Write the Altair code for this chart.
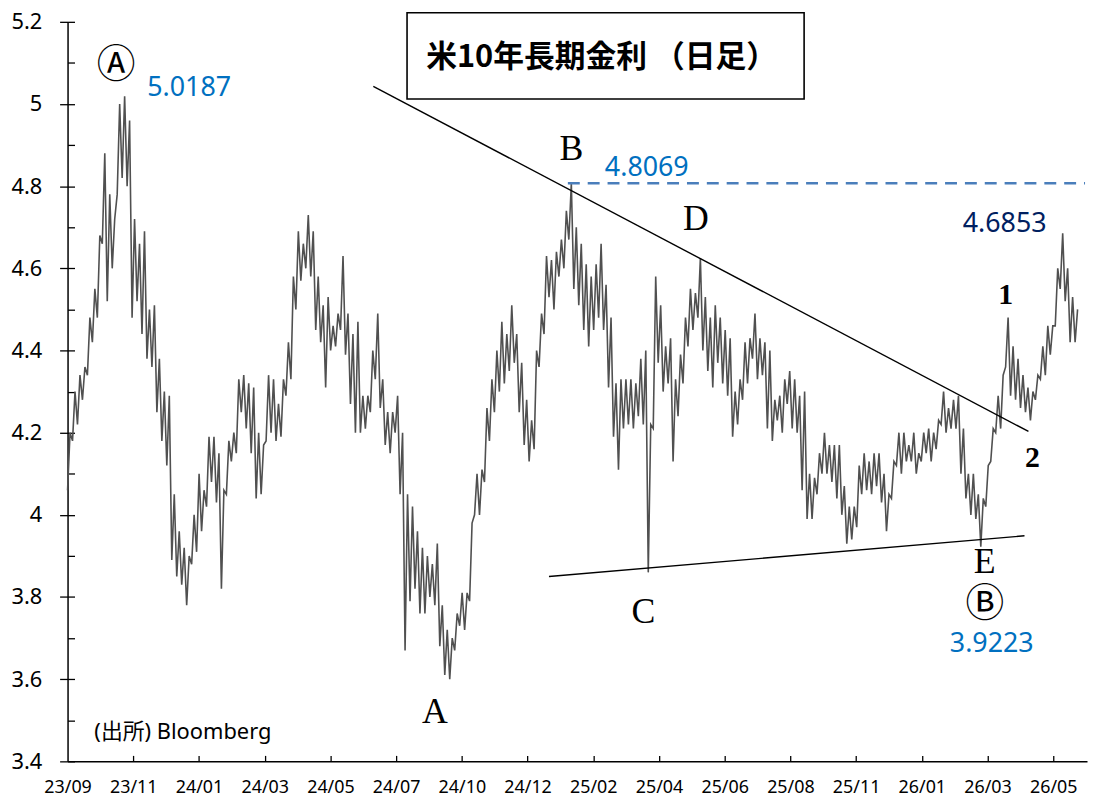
import altair as alt
import pandas as pd

# ---- axis labels -------------------------------------------------------
x_labels = ["23/09", "23/11", "24/01", "24/03", "24/05", "24/07", "24/10", "24/12",
            "25/02", "25/04", "25/06", "25/08", "25/11", "26/01", "26/03", "26/05"]
y_major = [3.4, 3.6, 3.8, 4.0, 4.2, 4.4, 4.6, 4.8, 5.0, 5.2]
y_minor = [3.4, 3.5, 3.6, 3.7, 3.8, 3.9, 4.0, 4.1, 4.2, 4.3, 4.4, 4.5, 4.6, 4.7,
           4.8, 4.9, 5.0, 5.1, 5.2]

# ---- daily yield: high / low for each short span ----
hi = [4.20, 4.30, 4.34, 4.36, 4.48, 4.55, 4.68, 4.88, 4.78, 4.72,
      5.00, 5.0187, 4.96, 4.72, 4.66, 4.69, 4.50, 4.51, 4.38, 4.30,
      4.29, 4.05, 3.96, 3.92, 3.90, 4.00, 4.10, 4.06, 4.19, 4.19,
      4.15, 4.06, 4.18, 4.20, 4.33, 4.34, 4.32, 4.31, 4.20, 4.17,
      4.34, 4.33, 4.27, 4.33, 4.42, 4.58, 4.69, 4.66, 4.73, 4.69,
      4.58, 4.51, 4.53, 4.46, 4.49, 4.63, 4.49, 4.44, 4.47, 4.29,
      4.29, 4.40, 4.49, 4.33, 4.25, 4.25, 4.29, 4.20, 4.05, 4.02,
      3.96, 3.92, 3.90, 3.88, 3.93, 3.78, 3.72, 3.70, 3.76, 3.81,
      3.81, 3.98, 4.10, 4.11, 4.26, 4.33, 4.40, 4.47, 4.44, 4.51,
      4.44, 4.37, 4.28, 4.23, 4.40, 4.49, 4.63, 4.62, 4.64, 4.67,
      4.74, 4.8069, 4.70, 4.66, 4.61, 4.58, 4.61, 4.66, 4.56, 4.48,
      4.32, 4.33, 4.33, 4.33, 4.32, 4.38, 4.40, 4.22, 4.58, 4.51,
      4.41, 4.43, 4.33, 4.39, 4.48, 4.55, 4.54, 4.625, 4.53, 4.48,
      4.51, 4.48, 4.45, 4.43, 4.30, 4.33, 4.42, 4.43, 4.49, 4.43,
      4.42, 4.40, 4.28, 4.29, 4.33, 4.35, 4.33, 4.29, 4.30, 4.10,
      4.09, 4.15, 4.20, 4.17, 4.17, 4.17, 4.07, 4.02, 4.02, 4.12,
      4.15, 4.13, 4.15, 4.15, 4.10, 4.05, 4.13, 4.20, 4.20, 4.17,
      4.20, 4.15, 4.20, 4.21, 4.20, 4.23, 4.30, 4.26, 4.28, 4.29,
      4.21, 4.10, 4.10, 4.05, 4.04, 4.12, 4.21, 4.29, 4.34, 4.48,
      4.41, 4.38, 4.34, 4.31, 4.30, 4.34, 4.41, 4.46, 4.46, 4.60,
      4.6853, 4.60, 4.53, 4.50]
lo = [4.06, 4.18, 4.22, 4.28, 4.34, 4.42, 4.48, 4.66, 4.52, 4.60,
      4.78, 4.82, 4.80, 4.48, 4.52, 4.44, 4.38, 4.36, 4.25, 4.18,
      4.12, 3.89, 3.85, 3.83, 3.78, 3.88, 3.91, 3.96, 4.02, 4.08,
      4.03, 3.82, 4.05, 4.13, 4.15, 4.25, 4.21, 4.15, 4.04, 4.05,
      4.18, 4.20, 4.18, 4.19, 4.29, 4.33, 4.50, 4.57, 4.60, 4.58,
      4.45, 4.42, 4.31, 4.40, 4.41, 4.45, 4.39, 4.27, 4.20, 4.20,
      4.21, 4.25, 4.33, 4.26, 4.17, 4.15, 4.20, 4.05, 3.67, 3.79,
      3.82, 3.76, 3.76, 3.80, 3.78, 3.68, 3.61, 3.60, 3.67, 3.73,
      3.72, 3.79, 4.00, 4.00, 4.08, 4.18, 4.25, 4.30, 4.32, 4.35,
      4.37, 4.25, 4.17, 4.13, 4.16, 4.36, 4.44, 4.53, 4.50, 4.58,
      4.60, 4.67, 4.55, 4.51, 4.45, 4.41, 4.45, 4.48, 4.45, 4.31,
      4.19, 4.11, 4.21, 4.22, 4.21, 4.24, 4.22, 3.86, 4.21, 4.37,
      4.30, 4.32, 4.13, 4.24, 4.32, 4.41, 4.45, 4.48, 4.40, 4.35,
      4.31, 4.37, 4.32, 4.29, 4.19, 4.22, 4.28, 4.32, 4.38, 4.33,
      4.34, 4.21, 4.18, 4.23, 4.20, 4.27, 4.21, 4.20, 4.06, 3.99,
      3.99, 4.05, 4.10, 4.10, 4.08, 4.04, 4.00, 3.93, 3.94, 3.97,
      4.05, 4.06, 4.05, 4.07, 4.03, 3.96, 4.04, 4.12, 4.10, 4.13,
      4.13, 4.10, 4.13, 4.15, 4.13, 4.16, 4.22, 4.20, 4.21, 4.21,
      4.10, 4.04, 4.00, 3.99, 3.9223, 4.02, 4.13, 4.20, 4.21, 4.36,
      4.29, 4.28, 4.26, 4.25, 4.23, 4.28, 4.33, 4.34, 4.39, 4.46,
      4.55, 4.52, 4.42, 4.42]

# ---- annotation tables (positions in data units: sample index, yield) ----
trend_t = [61.6, 97.0]
trend_v = [5.043, 3.850]
trend_t2 = [193.6, 192.8]
trend_v2 = [4.203, 3.949]

level_value = 4.8069
level_t = [100.8]
level_t2 = [205.0]

serif_text = ["B", "D", "C", "A", "E"]
serif_t = [101.5, 126.6, 116.0, 74.0, 184.8]
serif_v = [4.891, 4.719, 3.763, 3.519, 3.886]

digit_text = ["1", "2"]
digit_t = [189.0, 194.4]
digit_v = [4.536, 4.137]

circ_text = ["Ⓐ", "Ⓑ"]
circ_t = [9.8, 184.8]
circ_v = [5.094, 3.782]

val_text = ["5.0187", "4.8069", "4.6853", "3.9223"]
val_t = [24.5, 116.7, 188.8, 186.2]
val_v = [5.038, 4.843, 4.707, 3.686]
val_color = ["#0070C0", "#0070C0", "#002060", "#0070C0"]

title_text = "米10年長期金利 （日足）"
source_text = "(出所) Bloomberg"

# ---- build tables --------------------------------------------------------
line_rows = []
for i, (h, l) in enumerate(zip(hi, lo)):
    line_rows.append({"t": i, "v": l})
    line_rows.append({"t": i + 0.5, "v": h})
line_df = pd.DataFrame(line_rows)

SPAN = 13.24        # samples between two date labels
X_MAX = 205.4
tick_vals = [k * SPAN for k in range(16)]

xs = alt.Scale(domain=[0, X_MAX], nice=False, zero=False)
ys = alt.Scale(domain=[3.4, 5.2], nice=False, zero=False)

label_expr = "[" + ",".join("'%s'" % s for s in x_labels) + "][round(datum.value / %s)]" % SPAN

x_main = alt.Axis(values=tick_vals, labelExpr=label_expr, tickSize=0, domainColor="black",
                  domainWidth=1.5, labelFont="Noto Sans", labelFontSize=18, labelColor="black",
                  labelPadding=17, labelFlush=False, labelOverlap=False, grid=False, title=None)
y_main = alt.Axis(values=y_major, format="~g", tickSize=8, tickColor="black", tickWidth=1.3,
                  domainColor="black", domainWidth=1.5, labelFont="Noto Sans", labelFontSize=22,
                  labelColor="black", labelPadding=18, labelFlush=False, labelOverlap=False,
                  grid=False, title=None)
x_minor = alt.Axis(orient="bottom", offset=-6, values=tick_vals[1:], tickSize=6, tickColor="black",
                   tickWidth=1.3, labels=False, domain=False, grid=False, title=None)
y_minor_ax = alt.Axis(orient="left", offset=-7, values=y_minor, tickSize=7, tickColor="black",
                      tickWidth=1.3, labels=False, domain=False, grid=False, title=None)

line = alt.Chart(line_df).mark_line(color="#505050", strokeWidth=1.6).encode(
    x=alt.X("t:Q", scale=xs, axis=x_main),
    y=alt.Y("v:Q", scale=ys, axis=y_main),
)

trend_df = pd.DataFrame({"t": trend_t, "v": trend_v, "t2": trend_t2, "v2": trend_v2})
trend = alt.Chart(trend_df).mark_rule(color="black", strokeWidth=1.4).encode(
    x=alt.X("t:Q", scale=xs, axis=x_minor), x2="t2:Q",
    y=alt.Y("v:Q", scale=ys, axis=y_minor_ax), y2="v2:Q",
)

level_df = pd.DataFrame({"t": level_t, "t2": level_t2, "v": [level_value]})
level = alt.Chart(level_df).mark_rule(color="#4A7EBB", strokeWidth=2.6, strokeDash=[12, 8]).encode(
    x=alt.X("t:Q", scale=xs, axis=None), x2="t2:Q",
    y=alt.Y("v:Q", scale=ys, axis=None),
)

box_df = pd.DataFrame({"t": [68.4], "t2": [148.4], "v": [5.222], "v2": [5.012]})
box = alt.Chart(box_df).mark_rect(fill="white", stroke="black", strokeWidth=1.6).encode(
    x=alt.X("t:Q", scale=xs, axis=None), x2="t2:Q",
    y=alt.Y("v:Q", scale=ys, axis=None), y2="v2:Q",
)

title_df = pd.DataFrame({"t": [107.6], "v": [5.113], "s": [title_text]})
title = alt.Chart(title_df).mark_text(font="Noto Sans CJK JP", fontSize=31, fontWeight="bold",
                                      color="black", baseline="middle").encode(
    x=alt.X("t:Q", scale=xs, axis=None), y=alt.Y("v:Q", scale=ys, axis=None), text="s:N")

serif_df = pd.DataFrame({"t": serif_t, "v": serif_v, "s": serif_text})
serif = alt.Chart(serif_df).mark_text(font="Liberation Serif", fontSize=36, color="black",
                                      baseline="middle").encode(
    x=alt.X("t:Q", scale=xs, axis=None), y=alt.Y("v:Q", scale=ys, axis=None), text="s:N")

digit_df = pd.DataFrame({"t": digit_t, "v": digit_v, "s": digit_text})
digits = alt.Chart(digit_df).mark_text(font="Liberation Serif", fontSize=30, fontWeight="bold",
                                       color="black", baseline="middle").encode(
    x=alt.X("t:Q", scale=xs, axis=None), y=alt.Y("v:Q", scale=ys, axis=None), text="s:N")

circ_df = pd.DataFrame({"t": circ_t, "v": circ_v, "s": circ_text})
circ = alt.Chart(circ_df).mark_text(font="Noto Sans CJK JP", fontSize=39, color="black",
                                    baseline="middle").encode(
    x=alt.X("t:Q", scale=xs, axis=None), y=alt.Y("v:Q", scale=ys, axis=None), text="s:N")

val_df = pd.DataFrame({"t": val_t, "v": val_v, "s": val_text, "c": val_color})
vals = alt.Chart(val_df).mark_text(font="Noto Sans", fontSize=27, baseline="middle").encode(
    x=alt.X("t:Q", scale=xs, axis=None), y=alt.Y("v:Q", scale=ys, axis=None), text="s:N",
    color=alt.Color("c:N", scale=None))

src_df = pd.DataFrame({"t": [5.4], "v": [3.471], "s": [source_text]})
src = alt.Chart(src_df).mark_text(font="'Noto Sans', 'Noto Sans CJK JP'", fontSize=22, color="black",
                                  align="left", baseline="middle").encode(
    x=alt.X("t:Q", scale=xs, axis=None), y=alt.Y("v:Q", scale=ys, axis=None), text="s:N")

chart = alt.layer(line, trend, level, box, title, serif, digits, circ, vals, src).resolve_axis(
    x="independent", y="independent"
).properties(
    width=1027, height=745,
    autosize=alt.AutoSizeParams(type="none"),
    padding={"left": 60, "top": 11, "right": 2, "bottom": 36},
    background="white",
).configure_view(stroke=None)

chart.save("out.html", embed_options={"renderer": "svg", "actions": False})
